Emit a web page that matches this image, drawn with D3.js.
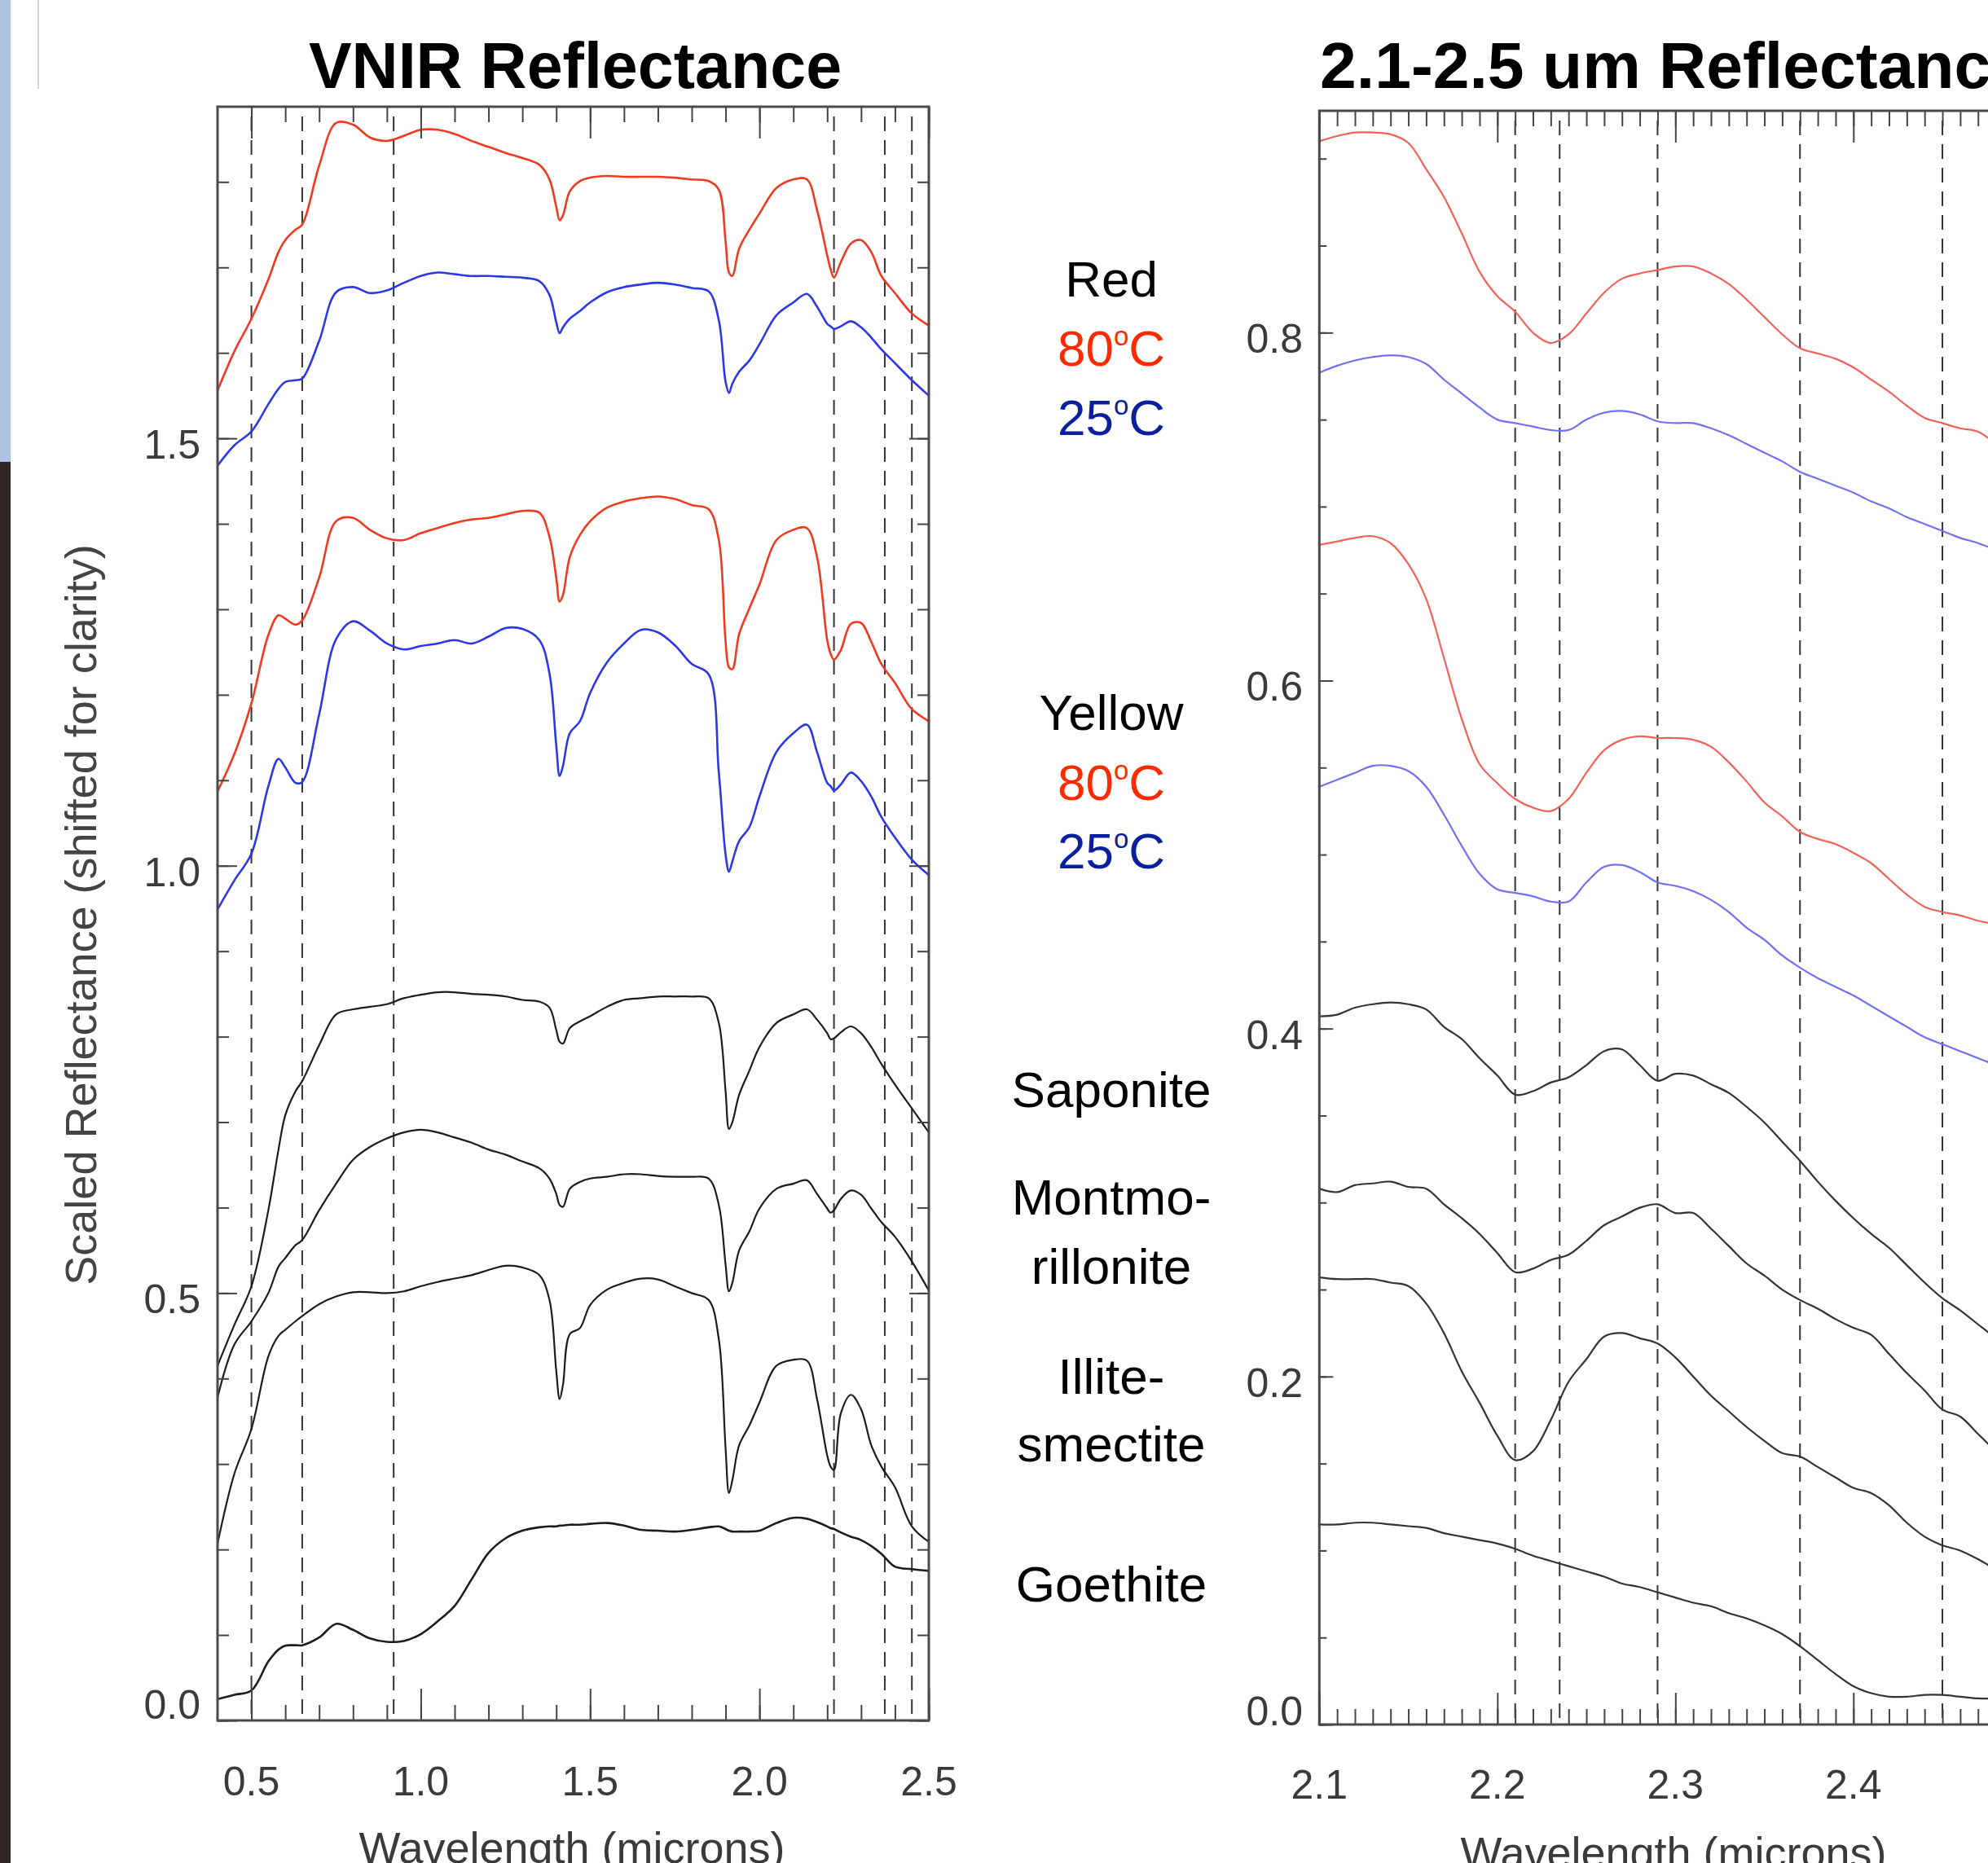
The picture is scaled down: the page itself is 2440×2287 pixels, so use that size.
<!DOCTYPE html>
<html><head><meta charset="utf-8">
<script src="https://cdn.jsdelivr.net/npm/d3@7"></script>
<style>html,body{margin:0;padding:0;background:#fff;overflow:hidden}</style>
</head><body><svg id="c" width="2440" height="2287"></svg>
<script>
// ---------------- DATA ----------------
const wlVNIR=[0.40,0.45,0.50,0.55,0.58,0.60,0.63,0.65,0.70,0.75,0.80,0.85,0.90,0.95,1.00,1.05,1.10,1.15,1.20,1.25,1.30,1.35,1.38,1.40,1.41,1.42,1.44,1.47,1.50,1.55,1.60,1.65,1.70,1.75,1.80,1.85,1.88,1.90,1.91,1.92,1.94,1.97,2.00,2.05,2.10,2.14,2.17,2.20,2.21,2.22,2.24,2.27,2.30,2.33,2.36,2.40,2.45,2.50];
const vnirRed80=[1.556,1.602,1.640,1.686,1.718,1.732,1.744,1.750,1.819,1.869,1.867,1.852,1.848,1.854,1.861,1.861,1.856,1.848,1.841,1.834,1.828,1.820,1.803,1.771,1.755,1.761,1.789,1.801,1.805,1.807,1.806,1.806,1.806,1.805,1.803,1.801,1.791,1.730,1.694,1.690,1.722,1.744,1.763,1.793,1.803,1.803,1.767,1.714,1.698,1.688,1.706,1.728,1.732,1.718,1.690,1.670,1.646,1.632];
const vnirRed25=[1.468,1.492,1.508,1.540,1.558,1.566,1.568,1.570,1.614,1.671,1.677,1.670,1.673,1.682,1.690,1.694,1.692,1.690,1.690,1.689,1.688,1.684,1.668,1.636,1.623,1.630,1.640,1.649,1.659,1.671,1.677,1.680,1.682,1.680,1.676,1.672,1.638,1.566,1.553,1.564,1.578,1.591,1.610,1.644,1.659,1.669,1.654,1.634,1.631,1.628,1.631,1.637,1.630,1.618,1.604,1.588,1.568,1.550];
const vnirYellow80=[1.087,1.131,1.190,1.270,1.293,1.289,1.282,1.287,1.337,1.403,1.407,1.393,1.383,1.381,1.389,1.395,1.401,1.405,1.407,1.411,1.415,1.413,1.385,1.337,1.309,1.317,1.361,1.387,1.403,1.419,1.426,1.430,1.432,1.429,1.422,1.417,1.381,1.262,1.232,1.230,1.271,1.301,1.329,1.381,1.393,1.395,1.361,1.264,1.248,1.241,1.252,1.283,1.284,1.262,1.236,1.214,1.183,1.169];
const vnirYellow25=[0.949,0.983,1.014,1.093,1.125,1.115,1.097,1.098,1.177,1.265,1.286,1.275,1.260,1.253,1.257,1.260,1.264,1.260,1.268,1.278,1.277,1.264,1.225,1.141,1.105,1.117,1.155,1.169,1.202,1.238,1.260,1.276,1.273,1.258,1.236,1.224,1.109,1.013,0.993,1.005,1.029,1.045,1.081,1.133,1.155,1.165,1.133,1.097,1.093,1.088,1.095,1.109,1.099,1.081,1.057,1.033,1.007,0.989];
const vnirSaponite=[0.415,0.463,0.508,0.597,0.668,0.708,0.736,0.748,0.790,0.826,0.832,0.835,0.838,0.845,0.849,0.852,0.852,0.850,0.849,0.847,0.843,0.841,0.834,0.808,0.794,0.792,0.810,0.818,0.824,0.835,0.843,0.845,0.847,0.847,0.847,0.845,0.816,0.736,0.692,0.700,0.732,0.760,0.788,0.816,0.826,0.832,0.820,0.804,0.797,0.798,0.805,0.812,0.804,0.788,0.768,0.744,0.716,0.688];
const vnirMontmorillonite=[0.378,0.440,0.467,0.500,0.531,0.541,0.556,0.562,0.597,0.628,0.656,0.671,0.681,0.688,0.691,0.688,0.682,0.676,0.668,0.662,0.654,0.646,0.634,0.616,0.603,0.601,0.622,0.630,0.634,0.636,0.639,0.639,0.637,0.636,0.636,0.634,0.603,0.533,0.502,0.512,0.550,0.572,0.599,0.622,0.628,0.632,0.616,0.599,0.594,0.597,0.610,0.620,0.615,0.599,0.583,0.566,0.537,0.503];
const vnirIlliteSmectite=[0.207,0.289,0.341,0.426,0.450,0.457,0.467,0.473,0.487,0.496,0.501,0.501,0.500,0.502,0.508,0.513,0.517,0.521,0.527,0.532,0.530,0.521,0.492,0.409,0.376,0.393,0.452,0.459,0.486,0.504,0.512,0.517,0.516,0.508,0.500,0.492,0.446,0.318,0.266,0.281,0.322,0.345,0.372,0.415,0.422,0.421,0.376,0.310,0.297,0.293,0.359,0.381,0.364,0.322,0.297,0.273,0.227,0.209];
const vnirGoethite=[0.025,0.030,0.035,0.069,0.083,0.0875,0.088,0.088,0.097,0.113,0.106,0.096,0.092,0.093,0.101,0.116,0.134,0.165,0.196,0.213,0.222,0.226,0.227,0.227,0.228,0.228,0.229,0.229,0.230,0.231,0.228,0.223,0.222,0.221,0.223,0.226,0.227,0.224,0.222,0.221,0.221,0.221,0.222,0.231,0.237,0.236,0.232,0.227,0.225,0.224,0.220,0.215,0.211,0.204,0.195,0.180,0.177,0.175];

const wlSWIR=[2.10,2.11,2.12,2.13,2.14,2.15,2.16,2.17,2.18,2.19,2.20,2.21,2.22,2.23,2.24,2.25,2.26,2.27,2.28,2.29,2.30,2.31,2.32,2.33,2.34,2.35,2.36,2.37,2.38,2.39,2.40,2.41,2.42,2.43,2.44,2.45,2.46,2.47,2.48];
const swirRed80=[0.910,0.913,0.915,0.915,0.914,0.909,0.894,0.878,0.857,0.835,0.821,0.812,0.800,0.794,0.799,0.811,0.823,0.831,0.834,0.836,0.838,0.838,0.834,0.828,0.819,0.809,0.799,0.791,0.788,0.785,0.780,0.773,0.766,0.758,0.751,0.748,0.745,0.743,0.736];
const swirRed25=[0.777,0.781,0.784,0.786,0.787,0.786,0.782,0.773,0.765,0.757,0.750,0.748,0.746,0.744,0.744,0.750,0.754,0.755,0.753,0.749,0.748,0.748,0.745,0.741,0.736,0.731,0.726,0.720,0.716,0.712,0.708,0.703,0.699,0.694,0.690,0.686,0.682,0.679,0.675];
const swirYellow80=[0.678,0.680,0.682,0.683,0.679,0.667,0.647,0.613,0.578,0.552,0.541,0.532,0.527,0.525,0.532,0.547,0.560,0.566,0.568,0.567,0.567,0.566,0.562,0.553,0.542,0.530,0.522,0.513,0.509,0.506,0.501,0.495,0.486,0.477,0.470,0.467,0.465,0.462,0.460];
const swirYellow25=[0.539,0.543,0.547,0.551,0.551,0.548,0.539,0.523,0.505,0.489,0.480,0.478,0.476,0.473,0.473,0.484,0.493,0.494,0.490,0.484,0.482,0.479,0.474,0.467,0.458,0.451,0.442,0.435,0.429,0.424,0.419,0.413,0.407,0.401,0.395,0.391,0.387,0.383,0.379];
const swirSaponite=[0.407,0.408,0.412,0.414,0.415,0.414,0.411,0.401,0.394,0.383,0.373,0.362,0.364,0.369,0.372,0.379,0.387,0.388,0.379,0.370,0.374,0.373,0.368,0.363,0.355,0.346,0.335,0.324,0.312,0.301,0.291,0.282,0.274,0.264,0.254,0.245,0.238,0.230,0.222];
const swirMontmorillonite=[0.308,0.306,0.310,0.311,0.312,0.309,0.308,0.299,0.291,0.282,0.271,0.260,0.262,0.267,0.270,0.278,0.287,0.292,0.297,0.299,0.294,0.294,0.285,0.275,0.265,0.258,0.250,0.244,0.239,0.233,0.228,0.224,0.213,0.202,0.192,0.181,0.177,0.167,0.157];
const swirIlliteSmectite=[0.257,0.256,0.256,0.256,0.254,0.252,0.242,0.225,0.203,0.185,0.166,0.152,0.157,0.175,0.197,0.210,0.223,0.225,0.222,0.219,0.211,0.200,0.189,0.180,0.171,0.163,0.156,0.154,0.148,0.142,0.136,0.133,0.126,0.116,0.108,0.103,0.100,0.095,0.089];
const swirGoethite=[0.115,0.115,0.116,0.116,0.115,0.114,0.113,0.110,0.108,0.106,0.104,0.101,0.097,0.094,0.091,0.088,0.085,0.081,0.079,0.076,0.073,0.070,0.068,0.064,0.061,0.057,0.052,0.045,0.037,0.029,0.022,0.018,0.016,0.016,0.017,0.017,0.016,0.015,0.015];

const vnirBands=[0.50,0.65,0.92,2.22,2.37,2.45];
const swirBands=[2.21,2.235,2.29,2.37,2.45];
const vnirXTicks=[0.5,1.0,1.5,2.0,2.5];
const vnirYTicks=[0.0,0.5,1.0,1.5];
const swirXTicks=[2.1,2.2,2.3,2.4,2.5];
const swirYTicks=[0.0,0.2,0.4,0.6,0.8];
const titles=["VNIR Reflectance","2.1-2.5 um Reflectance"];
const xTitle="Wavelength (microns)";
const yTitle="Scaled Reflectance (shifted for clarity)";
const sampleLabels=[["Red","k"],["80","r"],["25","b"],["Yellow","k"],["80","r"],["25","b"],["Saponite","k"],["Montmo-","k"],["rillonite","k"],["Illite-","k"],["smectite","k"],["Goethite","k"]];

// ---------------- DRAW ----------------
const svg=d3.select("#c");
const FONT="'Liberation Sans', Arial, Helvetica, sans-serif";
const W=2440;
svg.append("rect").attr("width",2440).attr("height",2287).attr("fill","#fff");
// screenshot edge artifacts
svg.append("rect").attr("x",0).attr("y",0).attr("width",13).attr("height",567).attr("fill","#aec3e2");
svg.append("rect").attr("x",0).attr("y",567).attr("width",13).attr("height",1720).attr("fill","#2e2624");
svg.append("line").attr("x1",47).attr("x2",47).attr("y1",0).attr("y2",109).attr("stroke","#d4d4d4").attr("stroke-width",2);

const RED_L="#ef3a20", BLUE_L="#2c38e6", RED_R="#f0625a", BLUE_R="#7070f2";

const xL=d3.scaleLinear().domain([0.4,2.5]).range([267,1140]);
const yL=d3.scaleLinear().domain([0,1.888]).range([2112,131]);
const xR=d3.scaleLinear().domain([2.1,2.5]).range([1619.3,2493.3]);
const yR=d3.scaleLinear().domain([0,0.9275]).range([2117,136]);

const defs=svg.append("defs");
defs.append("clipPath").attr("id","clipL").append("rect").attr("x",267).attr("y",131).attr("width",873).attr("height",1981);
defs.append("clipPath").attr("id","clipR").append("rect").attr("x",1619).attr("y",136).attr("width",875).attr("height",1981);

function panel(o){
  const g=svg.append("g");
  const [x0,x1]=o.x.range(), [y0,y1]=o.y.range();
  g.append("g").selectAll("line").data(o.bands).join("line")
    .attr("x1",d=>o.x(d)).attr("x2",d=>o.x(d)).attr("y1",y1+12).attr("y2",y0-6)
    .attr("stroke","#333").attr("stroke-width",2).attr("stroke-dasharray","18 11");
  const pg=g.append("g").attr("clip-path",`url(#${o.clip})`);
  o.series.forEach(s=>{
    const line=d3.line().x((d,i)=>o.x(o.wl[i])).y(d=>o.y(d)).curve(d3.curveCatmullRom.alpha(0.5));
    pg.append("path").attr("d",line(s.v)).attr("fill","none").attr("stroke",s.c).attr("stroke-width",s.w).attr("stroke-linejoin","round");
  });
  const tk=(axisFn,scale,vals,size,tr)=>{
    g.append("g").attr("transform",tr).call(axisFn(scale).tickValues(vals).tickSize(-size).tickFormat(""))
      .call(s=>s.select(".domain").remove())
      .selectAll("line").attr("stroke","#444").attr("stroke-width",2);
  };
  tk(d3.axisBottom,o.x,o.xMinor,o.xMinorLen,`translate(0,${y0})`);
  tk(d3.axisBottom,o.x,o.xMajor,o.xMajorLen,`translate(0,${y0})`);
  tk(d3.axisTop,o.x,o.xMinor,o.xMinorLen,`translate(0,${y1})`);
  tk(d3.axisTop,o.x,o.xMajor,o.xMajorLen,`translate(0,${y1})`);
  tk(d3.axisLeft,o.y,o.yMinor,o.yMinorLen,`translate(${x0},0)`);
  tk(d3.axisLeft,o.y,o.yMajor,o.yMajorLen,`translate(${x0},0)`);
  tk(d3.axisRight,o.y,o.yMinor,o.yMinorLen,`translate(${x1},0)`);
  tk(d3.axisRight,o.y,o.yMajor,o.yMajorLen,`translate(${x1},0)`);
  g.append("rect").attr("x",x0).attr("y",y1).attr("width",x1-x0).attr("height",y0-y1)
    .attr("fill","none").attr("stroke","#4a4a4a").attr("stroke-width",3);
  const f=d3.format(".1f");
  g.append("g").selectAll("text").data(o.xMajor.filter(d=>o.x(d)+30<W)).join("text")
    .attr("x",d=>o.x(d)).attr("y",o.xLabY).attr("text-anchor","middle")
    .attr("font-family",FONT).attr("font-size",o.fs).attr("fill","#3a3a3a").text(f);
  g.append("g").selectAll("text").data(o.yMajor).join("text")
    .attr("x",o.yLabX).attr("y",d=>d===0?o.zeroY:o.y(d)+25).attr("text-anchor","end")
    .attr("font-family",FONT).attr("font-size",o.fs).attr("fill","#3a3a3a").text(f);
  g.append("text").attr("x",o.titleX).attr("y",108).attr("text-anchor",o.titleAnchor)
    .attr("font-family",FONT).attr("font-weight","bold").attr("font-size",o.titleSize).attr("fill","#000").text(o.title);
  g.append("text").attr("x",o.xTitleX).attr("y",o.xTitleY).attr("text-anchor","middle")
    .attr("font-family",FONT).attr("font-size",54).attr("fill","#3a3a3a").text(xTitle);
}

const vMinorX=d3.range(5,26).map(d=>d/10);
const vMinorY=d3.range(0,19).map(d=>d/10);
const sMinorX=d3.range(210,251).map(d=>d/100);
const sMinorY=d3.range(0,19).map(d=>d*0.05);

panel({x:xL,y:yL,wl:wlVNIR,clip:"clipL",bands:vnirBands,title:titles[0],titleX:706,titleAnchor:"middle",titleSize:79,
  series:[
    {v:vnirRed80,c:RED_L,w:2.6},{v:vnirRed25,c:BLUE_L,w:2.6},
    {v:vnirYellow80,c:RED_L,w:2.6},{v:vnirYellow25,c:BLUE_L,w:2.6},
    {v:vnirSaponite,c:"#1c1c1c",w:2.2},{v:vnirMontmorillonite,c:"#1c1c1c",w:2.2},
    {v:vnirIlliteSmectite,c:"#1c1c1c",w:2.2},{v:vnirGoethite,c:"#1c1c1c",w:2.6}],
  xMinor:vMinorX,xMajor:vnirXTicks,yMinor:vMinorY,yMajor:vnirYTicks,
  xMinorLen:19,xMajorLen:39,yMinorLen:14,yMajorLen:24,
  xLabY:2204,yLabX:246,zeroY:2110,fs:50,xTitleX:702,xTitleY:2287});

panel({x:xR,y:yR,wl:wlSWIR,clip:"clipR",bands:swirBands,title:titles[1],titleX:1620,titleAnchor:"start",titleSize:80.5,
  series:[
    {v:swirRed80,c:RED_R,w:2.2},{v:swirRed25,c:BLUE_R,w:2.2},
    {v:swirYellow80,c:RED_R,w:2.2},{v:swirYellow25,c:BLUE_R,w:2.2},
    {v:swirSaponite,c:"#333",w:2.2},{v:swirMontmorillonite,c:"#333",w:2.2},
    {v:swirIlliteSmectite,c:"#333",w:2.2},{v:swirGoethite,c:"#333",w:2.2}],
  xMinor:sMinorX,xMajor:swirXTicks,yMinor:sMinorY,yMajor:swirYTicks,
  xMinorLen:19,xMajorLen:39,yMinorLen:9,yMajorLen:17,
  xLabY:2208,yLabX:1599,zeroY:2118,fs:50,xTitleX:2054,xTitleY:2293});

svg.append("text").attr("transform","translate(118,1123) rotate(-90)").attr("text-anchor","middle")
  .attr("font-family",FONT).attr("font-size",54).attr("fill","#444").text(yTitle);

const labBase=[364,449,534,896,982,1066,1359,1491,1576,1711,1794,1966];
const labColor={k:"#000",r:"#ff2a00",b:"#0a1f9c"};
sampleLabels.forEach((l,i)=>{
  const t=svg.append("text").attr("x",1364).attr("y",labBase[i]).attr("text-anchor","middle")
    .attr("font-family",FONT).attr("font-size",62).attr("fill",labColor[l[1]]);
  if(l[1]==="k"){t.text(l[0]);}
  else{
    t.append("tspan").text(l[0]);
    t.append("tspan").attr("font-size",33).attr("dy",-25).text("o");
    t.append("tspan").attr("dy",25).text("C");
  }
});
</script></body></html>
